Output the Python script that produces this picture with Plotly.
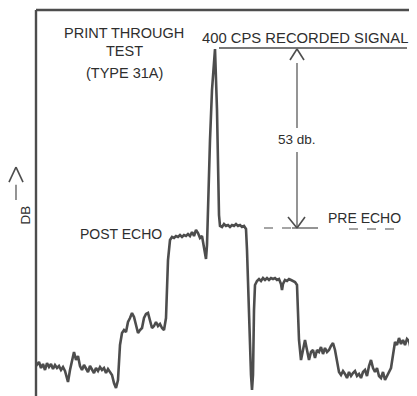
import plotly.graph_objects as go

# Time (arbitrary sweep units) and trace level (arbitrary chart units)
t = [0, 3, 5, 7, 9, 11, 13, 15, 17, 19, 21, 23, 25, 27, 29, 31, 32, 34, 36, 38,
     40, 42, 44, 46, 48, 50, 52, 54, 56, 58, 60, 62, 64, 66, 68, 70, 72, 74, 76, 78,
     80, 82, 84, 86, 88, 90, 92, 94, 96, 98, 100, 102, 104, 106, 108, 110, 112, 114, 116, 118,
     120, 122, 124, 126, 128, 130, 132, 134, 136, 138, 140, 142, 144, 146, 148, 150, 152, 154, 156, 158,
     160, 162, 164, 166, 168, 170, 171, 172, 174, 176, 179, 181, 182, 183, 184, 186, 188, 190, 192, 194,
     196, 198, 200, 202, 204, 206, 208, 210, 211, 213, 215, 216, 217, 218, 219, 221, 223, 225, 227, 229,
     231, 233, 235, 237, 239, 241, 243, 245, 246, 247, 249, 251, 253, 255, 257, 259, 261, 262, 263, 265,
     267, 269, 271, 273, 275, 277, 279, 281, 283, 285, 287, 289, 291, 293, 295, 297, 299, 301, 303, 305,
     307, 309, 311, 313, 315, 317, 319, 321, 323, 325, 327, 329, 331, 333, 335, 337, 339, 341, 343, 345,
     347, 349, 351, 353, 355, 357, 359, 361, 363, 365, 367, 369, 371, 373, 375, 376, 377, 378, 380, 381]
level = [30, 34, 28, 32, 26, 33, 29, 32, 27, 31, 28, 30, 26, 29, 25, 18, 14, 26, 36, 44,
         36, 40, 30, 26, 31, 28, 24, 30, 27, 23, 28, 25, 29, 26, 28, 23, 27, 24, 21, 13,
         8, 16, 51, 63, 66, 64, 74, 78, 83, 79, 71, 63, 66, 68, 78, 82, 83, 76, 68, 70,
         74, 70, 72, 68, 66, 78, 136, 156, 159, 158, 160, 159, 161, 159, 161, 160, 162, 160, 164, 160,
         166, 163, 158, 160, 146, 137, 151, 196, 256, 306, 347, 286, 226, 181, 170, 169, 172, 170, 171, 169,
         171, 170, 172, 170, 171, 169, 170, 167, 146, 76, 21, 6, 21, 86, 111, 115, 117, 115, 118, 116,
         118, 116, 118, 117, 118, 116, 117, 112, 106, 112, 116, 115, 117, 116, 115, 114, 111, 86, 56, 36,
         46, 56, 46, 36, 44, 46, 38, 46, 44, 49, 42, 48, 44, 46, 50, 53, 46, 34, 24, 21,
         25, 22, 18, 24, 20, 23, 25, 20, 22, 18, 24, 26, 20, 30, 36, 28, 24, 28, 20, 18,
         24, 16, 20, 24, 28, 41, 54, 51, 58, 52, 56, 51, 57, 55, 46, 26, 8, 11, 24, 28]

INK = "#4d4d4d"
TXT = "#2e2e2e"
FONT = "Liberation Sans"

fig = go.Figure()
fig.add_trace(go.Scatter(x=t, y=level, mode="lines",
                         line=dict(color=INK, width=2.6), hoverinfo="skip"))

def ann(x, y, text, size=14.5, **kw):
    fig.add_annotation(x=x, y=y, text=text, showarrow=False,
                       font=dict(family=FONT, size=size, color=TXT), **kw)

ann(88, 363, "PRINT THROUGH")
ann(88, 345, "TEST")
ann(88, 323, "(TYPE 31A)")
ann(269, 358, "400 CPS RECORDED SIGNAL", size=14.8)
ann(261, 257, "53 db.", size=13.5)
ann(85, 162, "POST ECHO", size=14)
ann(328, 178, "PRE ECHO", size=14)
ann(-0.0525, 0.469, "DB", xref="paper", yref="paper", textangle=-90, size=13.5)

shapes = []
def seg(x0, y0, x1, y1, w=1.4, dash="solid", ref="data"):
    d = dict(type="line", x0=x0, y0=y0, x1=x1, y1=y1,
             line=dict(color=INK, width=w, dash=dash))
    if ref == "paper":
        d.update(xref="paper", yref="paper")
    else:
        d.update(xref="x", yref="y")
    shapes.append(d)

# frame
seg(0, 1, 1, 1, w=2.4, ref="paper")
seg(0, 0, 0, 1, w=2.4, ref="paper")
# signal underline
seg(183, 348, 371, 348, w=1.5)
# measurement line with arrows
seg(261, 333, 261, 268, w=1.2)
seg(261, 244, 261, 169, w=1.2)
seg(254, 336, 261, 347, w=1.6)
seg(261, 347, 268, 336, w=1.6)
seg(252, 179, 261, 168, w=1.6)
seg(261, 168, 269, 179, w=1.6)
# pre echo reference line
seg(228, 168, 256, 168, w=1.2, dash="dash")
seg(256, 168, 282, 168, w=1.2)
# ECHO underline
seg(313, 167, 364, 167, w=1.2, dash="dash")
# DB arrow (in margin)
seg(-0.0525, 0.508, -0.0525, 0.547, w=1.2, ref="paper")
seg(-0.0709, 0.554, -0.0525, 0.593, w=1.6, ref="paper")
seg(-0.0525, 0.593, -0.0341, 0.554, w=1.6, ref="paper")

# page body keeps an 8px margin, so the figure is sized to fit the window
fig.update_layout(
    width=409, height=388,
    margin=dict(l=28, r=0, t=2, b=0),
    paper_bgcolor="white", plot_bgcolor="white",
    showlegend=False,
    shapes=shapes,
    xaxis=dict(range=[0, 381], visible=False, fixedrange=True),
    yaxis=dict(range=[0, 386], visible=False, fixedrange=True),
)
fig.write_html("out.html")
